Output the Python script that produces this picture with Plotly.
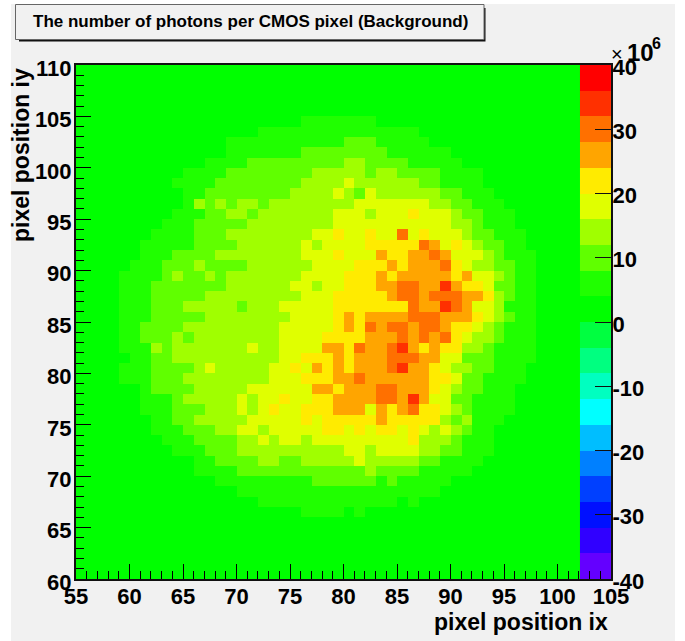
import plotly.graph_objects as go

# Read-off cell values, in units of 10^6, rows from iy=110 downwards, columns from ix=55
b = 2
rows = [
 [], [], [], [], [],
 [b]*21+[6]*7,
 [b]*17+[6]*15,
 [b]*14+[6]*11+[10]*3+[6]*5,
 [b]*14+[6]*7+[10]*8+[6]*6,
 [b]*12+[6]*4+[10]*9+[14]*2+[10]*4+[6]*5,
 [b]*10+[6]*4+[10]*8+[14]*5+[10]+[14]*2+[10]*4+[6]*4,
 [b]*9+[6]*4+[10]*8+[14]*4+[18]+[14]*6+[10]*2+[6]*4,
 [b]*10+[6]*2+[10]*8+[14]*4+[18,14,10,18]+[14]*6+[10]*2+[6]*3,
 [b]*10+[6,14,10,14,10,14,14,10]+[14]*8+[18]*7+[14]*2+[10]*2+[6]*3,
 [b]*9+[6]*3+[10]*2+[14]*2+[10]+[14]*7+[18]*3+[14]+[18]*3+[22]+[18]*3+[14]+[10]*2+[6]*3,
 [b]*8+[6]*3+[10]*5+[14]*8+[18]*11+[14]*2+[10]+[6]*3,
 [b]*7+[6]*4+[10]*3+[14]*8+[18]*2+[22]+[18]*2+[22]+[18]*2+[30,18,22]+[18]*3+[14]+[10]*2+[6]*3,
 [b]*6+[6]*5+[10]*4+[14]*6+[18,14]+[18]*4+[22]*5+[30,26,18,22,18,14]+[10]*2+[6]*2,
 [b]*6+[6]*3+[10]*4+[14]*8+[18]*3+[22]+[18]*3+[26,22,22,26,26,30,26]+[18]*3+[14,10]+[6]*3,
 [b]*5+[6]*3+[10]*3+[14]+[10]*4+[14]*6+[18]*4+[22]*3+[26,22,26,26,26,30,22,18,14,14,10,10]+[6]*2,
 [b]*4+[6]*4+[10,14,10,10,14,10]+[14]*7+[18]*4+[22]*3+[26,22]+[26]*5+[22,26,18,18,14,10]+[6]*2,
 [b]*4+[6]*3+[10]*7+[14]*6+[18,18,14,18,18]+[22]*3+[26,26,30,30,26,26,34,26,22,22,18,10,10,6,6],
 [b]*4+[6]*3+[10]*5+[14]*9+[18]*3+[22]*5+[26,30,30,26,30,30,30,26,26,22,14,10,6,6],
 [b]*4+[6]*3+[10]*3+[14]*5+[10]+[14]*3+[18]*5+[22]*7+[30,26,26,34,30,26,18,18,14,6,6,6],
 [b]*4+[6]*3+[10]*5+[14]*8+[18]*4+[22,26,22]+[26]*4+[30]*3+[26]*3+[22,18,14,10,6,6],
 [b]*4+[6]*2+[10]*4+[14]*9+[18]*5+[22,26,22,30,26,30,30,26,30,30,26,22,22,18,14,10,6,6,6],
 [b]*4+[6]*2+[10]*3+[14,10]+[14]*8+[18]*4+[22]*4+[26]*3+[30,26,30,26,30,22,18,14,14,10,6,6,6],
 [b]*4+[6]*3+[14,10]+[14]*7+[18,14,14]+[18]*4+[26,26,22,30,26,26,30,34,26,22,26,22,22,14,14,10,6,6,6,6],
 [b]*5+[6]*2+[10]*2+[14]*10+[18]*2+[22]*3+[26,22,26,26,26,30,30,30,26,26,18,18,10,10,10,6,6,6,6],
 [b]*4+[6]*3+[10]*4+[14,18]+[14]*5+[18,18,22,18,26,22,26,22,26,26,26,30,34,26,26,22,18,14,14,10,10,6,6,6],
 [b]*4+[6]*3+[10]*3+[14]*8+[18]*3+[22]*3+[26,26,30]+[26]*6+[22,22,18,10,10,6,6,6,6],
 [b]*6+[6]+[10]*4+[14]*5+[18]*6+[26,26,22,26,26,26,30,30,26,26,26,22,18,14,10,10,6,6,6],
 [b]*6+[6]*3+[10]+[14]*5+[18,14,18,18,22,18,18,22,22,26,26,26,26,30,30,26,34,26,18,18,10,10,6,6,6,6],
 [b]*6+[6]*3+[10]*3+[14]*3+[18,14,18,22,18,18,22,22,22,26,26,26,18,26,22,26,30,22,22,18,14,10,6,6,6,6],
 [b]*7+[6]*2+[10]*2+[14]*5+[18]*5+[22,18]+[22]*5+[26]+[22]*5+[14,10,14,6,6,6],
 [b]*7+[6]*3+[10]*3+[14]*2+[18]*2+[14]+[18]*5+[22,22,18,22,18,22,22,18,22,18,14,18,14,10,6,6],
 [b]*8+[6]*3+[10]*4+[14]*2+[18,14,18,18,14]+[18]*9+[22,14,14,14,10,6,6,6],
 [b]*9+[6]*3+[10]*3+[14]*10+[18,18,14,18,18,18,18,14,14,10,10,6,6,6],
 [b]*11+[6]*2+[10]*4+[14,14,10,10]+[14]*5+[18]+[14]*5+[10,10]+[6]*4,
 [b]*11+[6]*4+[10]*12+[14]+[10]*4+[6]*5,
 [b]*13+[6]*9+[10]*6+[6,10]+[6]*5,
 [b]*15+[6]*19,
 [b]*17+[6]*13+[2,6],
 [b]*21+[6]*4+[2,6],
 [], [], [], [], [], [],
]
n_cols = 48
z_rows = [r + [b]*(n_cols-len(r)) for r in rows][::-1]
x_edges = [55+i for i in range(n_cols+1)]
y_edges = [60+i for i in range(len(rows)+1)]

palette_colors = [
 "rgb(100,0,255)","rgb(48,0,255)","rgb(0,16,255)","rgb(0,64,255)","rgb(0,128,255)",
 "rgb(0,190,255)","rgb(0,255,255)","rgb(0,255,192)","rgb(0,255,128)","rgb(0,255,64)",
 "rgb(0,255,0)","rgb(32,255,0)","rgb(96,255,0)","rgb(160,255,0)","rgb(224,255,0)",
 "rgb(255,235,0)","rgb(255,165,0)","rgb(255,112,0)","rgb(255,48,0)","rgb(255,0,0)",
]
palette_edges = [-40+4*i for i in range(21)]
palette_values = [[-38+4*i] for i in range(20)]
palette_x = [102.1, 105]
bar_ticks = [-40,-30,-20,-10,0,10,20,30,40]
bar_labels = ["-40","-30","-20","-10","0","10","20","30","40"]

n = len(palette_colors)
cs = []
for i, c in enumerate(palette_colors):
    cs += [[i/n, c], [(i+1)/n, c]]

FONT = "Liberation Sans"
W, H = 685, 641
L, R, T, B = 76, 611, 65, 579
def px(X): return (X-L)/(R-L)
def py(Y): return (B-Y)/(B-T)

fig = go.Figure()
fig.add_trace(go.Heatmap(x=x_edges, y=y_edges, z=z_rows, zmin=-40, zmax=40, colorscale=cs,
                         showscale=False, hoverinfo="skip"))
fig.add_trace(go.Heatmap(x=palette_x, y=palette_edges, z=palette_values, yaxis="y2", zmin=-40, zmax=40,
                         colorscale=cs, showscale=False, hoverinfo="skip"))

GREY = "#f1f1f1"
shapes = [
 dict(type="rect", xref="paper", yref="paper", x0=px(11), x1=px(675), y0=py(4), y1=py(641),
      fillcolor=GREY, line_width=0, layer="below"),
 dict(type="rect", xref="paper", yref="paper", x0=px(19), x1=px(485.5), y0=py(8), y1=py(41.5),
      fillcolor="#111111", line_width=0, layer="below"),
 dict(type="rect", xref="paper", yref="paper", x0=px(15.5), x1=px(484), y0=py(4.5), y1=py(39.5),
      fillcolor=GREY, line=dict(color="#666666", width=1), layer="below"),
]
tick = dict(size=22, family=FONT, color="#000000", weight="bold")
atitle = dict(size=23, family=FONT, color="#000000", weight="bold")
annotations = [
 dict(text="The number of photons per CMOS pixel (Background)", xref="paper", yref="paper",
      x=px(250), y=py(21), xanchor="center", yanchor="middle", showarrow=False,
      font=dict(size=17, family=FONT, color="#000000", weight="bold")),
 dict(text="pixel position ix", xref="paper", yref="paper", x=px(610), y=py(622),
      xanchor="right", yanchor="middle", showarrow=False, font=atitle),
 dict(text="pixel position iy", xref="paper", yref="paper", x=px(21), y=py(66),
      xanchor="center", yanchor="top", textangle=-90, showarrow=False, font=atitle),
 dict(text="×", xref="paper", yref="paper", x=px(617), y=py(54), xanchor="center", yanchor="middle",
      showarrow=False, font=dict(size=20, family=FONT, color="#000000")),
 dict(text="10", xref="paper", yref="paper", x=px(625), y=py(52), xanchor="left", yanchor="middle",
      showarrow=False, font=dict(size=24, family=FONT, color="#000000", weight="bold")),
 dict(text="6", xref="paper", yref="paper", x=px(650), y=py(44), xanchor="left", yanchor="middle",
      showarrow=False, font=dict(size=16, family=FONT, color="#000000", weight="bold")),
]

fig.update_layout(
    width=W, height=H, margin=dict(l=L, r=W-R, t=T, b=H-B, pad=0), autosize=False,
    paper_bgcolor="#ffffff", plot_bgcolor="#00ff00", showlegend=False,
    shapes=shapes, annotations=annotations,
    xaxis=dict(range=[55,105], tickmode="linear", tick0=55, dtick=5, ticks="inside", ticklen=15, tickwidth=1,
               tickcolor="#000000", showline=True, linecolor="#111111", linewidth=2, mirror=True,
               showgrid=False, zeroline=False, tickfont=tick, ticklabelstandoff=-3,
               minor=dict(tick0=55, dtick=1, ticks="inside", ticklen=8, tickwidth=1, tickcolor="#000000", showgrid=False),
               layer="above traces"),
    yaxis=dict(range=[60,110], tickmode="linear", tick0=60, dtick=5, ticks="inside", ticklen=15, tickwidth=1,
               tickcolor="#000000", showline=True, linecolor="#111111", linewidth=2,
               showgrid=False, zeroline=False, tickfont=tick, ticklabelshift=3, ticklabelstandoff=-2,
               minor=dict(tick0=60, dtick=1, ticks="inside", ticklen=8, tickwidth=1, tickcolor="#000000", showgrid=False),
               layer="above traces"),
    yaxis2=dict(range=[-40,40], overlaying="y", side="right", anchor="x", tickmode="array", tickvals=bar_ticks,
                ticktext=bar_labels, ticks="inside", ticklen=16, tickwidth=1, tickcolor="#111111",
                showline=True, linecolor="#111111", linewidth=2, showgrid=False, zeroline=False,
                tickfont=tick, ticklabelshift=2, ticklabelstandoff=-5, layer="above traces"),
)
fig.write_html("out.html", config={"displayModeBar": False},
               post_script="document.documentElement.style.overflow='hidden';document.body.style.margin='0';")
